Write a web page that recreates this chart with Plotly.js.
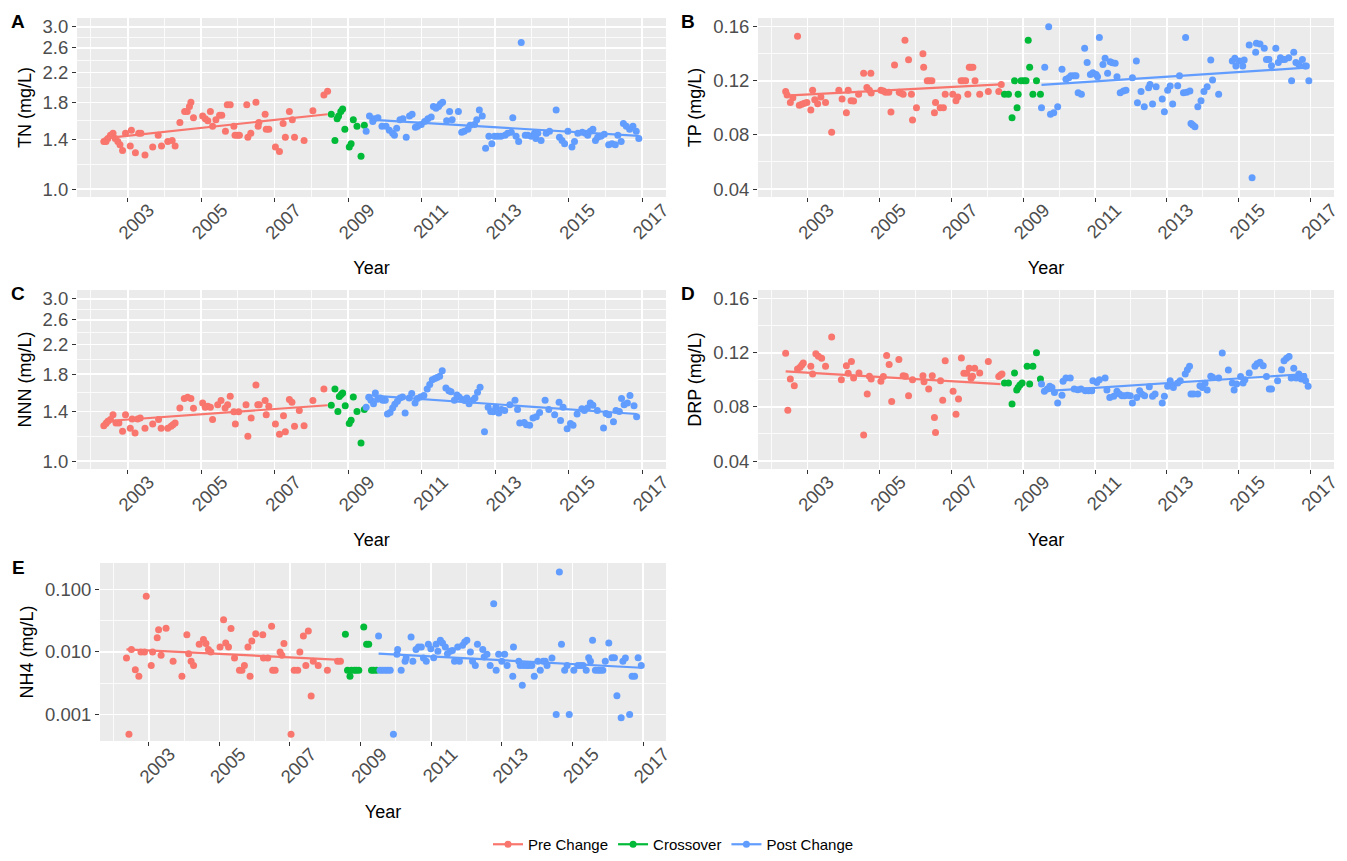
<!DOCTYPE html>
<html><head><meta charset="utf-8">
<script src="https://cdn.plot.ly/plotly-3.0.1.min.js"></script>
<style>body{margin:0;background:#fff}#chart{width:1347px;height:861px}</style>
</head><body><div id="chart"></div>
<script>
// ---------- tick labels ----------
const yearTicks = [2003,2005,2007,2009,2011,2013,2015,2017];
const yearLabels = ['2003','2005','2007','2009','2011','2013','2015','2017'];
const yearMinor = [2002,2004,2006,2008,2010,2012,2014,2016];
const nTicks = [1.0,1.4,1.8,2.2,2.6,3.0];
const nLabels = ['1.0','1.4','1.8','2.2','2.6','3.0'];
const nMinor = [1.183,1.587,1.99,2.392,2.793];
const pTicks = [0.04,0.08,0.12,0.16];
const pLabels = ['0.04','0.08','0.12','0.16'];
const pMinor = [0.06,0.10,0.14];
const nh4Ticks = [0.001,0.01,0.1];
const nh4Labels = ['0.001','0.010','0.100'];
const nh4Minor = [0.00316,0.0316];
const groupNames = ['Pre Change','Crossover','Post Change'];

// ---------- A: TN ----------
const tnPreX = [2002.35,2002.41,2002.46,2002.53,2002.60,2002.66,2002.73,2002.79,2002.86,2002.94,
2003.07,2003.10,2003.21,2003.30,2003.36,2003.47,2003.68,2003.83,2003.92,2004.09,
2004.21,2004.29,2004.42,2004.55,2004.62,2004.68,2004.72,2004.79,2005.04,2005.11,
2005.18,2005.25,2005.31,2005.40,2005.50,2005.56,2005.66,2005.71,2005.79,2005.89,
2005.92,2005.99,2006.04,2006.24,2006.27,2006.35,2006.49,2006.55,2006.57,2006.74,
2006.77,2006.84,2007.02,2007.13,2007.23,2007.29,2007.40,2007.48,2007.54,2007.80,
2008.04,2008.34,2008.44];
const tnPreY = [1.38,1.38,1.41,1.44,1.46,1.41,1.38,1.35,1.30,1.46,
1.34,1.49,1.28,1.46,1.46,1.26,1.33,1.44,1.34,1.38,
1.39,1.34,1.57,1.69,1.69,1.75,1.80,1.62,1.64,1.61,
1.59,1.69,1.53,1.60,1.65,1.65,1.48,1.77,1.77,1.53,
1.44,1.44,1.44,1.77,1.42,1.46,1.80,1.53,1.57,1.66,
1.50,1.50,1.33,1.29,1.56,1.42,1.69,1.60,1.42,1.39,
1.70,1.89,1.94];
const tnCrossX = [2008.54,2008.64,2008.70,2008.74,2008.80,2008.85,2008.91,2009.03,2009.08,2009.14,2009.24,2009.35,2009.44];
const tnCrossY = [1.66,1.39,1.61,1.64,1.69,1.72,1.50,1.33,1.36,1.60,1.53,1.25,1.54];
const tnPostX = [2009.49,2009.58,2009.67,2009.71,2009.81,2009.92,2010.03,2010.12,2010.21,2010.26,
2010.32,2010.41,2010.49,2010.58,2010.67,2010.74,2010.83,2010.89,2010.99,2011.08,
2011.17,2011.26,2011.32,2011.39,2011.46,2011.51,2011.57,2011.68,2011.76,2011.83,
2012.00,2012.09,2012.16,2012.26,2012.32,2012.44,2012.50,2012.57,2012.65,2012.74,
2012.83,2012.91,2012.98,2013.07,2013.16,2013.27,2013.34,2013.44,2013.48,2013.57,
2013.64,2013.71,2013.82,2013.89,2013.98,2014.07,2014.11,2014.16,2014.25,2014.39,
2014.48,2014.66,2014.75,2014.82,2014.89,2014.98,2015.09,2015.16,2015.25,2015.37,
2015.46,2015.52,2015.59,2015.66,2015.73,2015.79,2015.88,2015.97,2016.09,2016.18,
2016.27,2016.34,2016.43,2016.49,2016.57,2016.66,2016.75,2016.84,2016.91];
const tnPostY = [1.48,1.64,1.58,1.61,1.62,1.53,1.53,1.49,1.46,1.44,
1.51,1.60,1.61,1.42,1.64,1.66,1.52,1.53,1.55,1.58,
1.61,1.63,1.75,1.73,1.75,1.78,1.80,1.59,1.69,1.60,
1.69,1.47,1.48,1.50,1.54,1.55,1.60,1.71,1.64,1.32,
1.43,1.36,1.43,1.43,1.43,1.44,1.46,1.47,1.62,1.43,
1.38,2.70,1.44,1.44,1.43,1.46,1.41,1.46,1.39,1.46,
1.48,1.71,1.42,1.39,1.36,1.48,1.33,1.38,1.46,1.47,
1.46,1.44,1.48,1.50,1.39,1.42,1.43,1.45,1.35,1.36,
1.35,1.44,1.38,1.56,1.53,1.50,1.53,1.48,1.41];
const tnPreTrendX = [2002.35,2008.44];
const tnPreTrendY = [1.41,1.66];
const tnPostTrendX = [2009.58,2016.91];
const tnPostTrendY = [1.60,1.435];

// ---------- B: TP ----------
const tpPreX = [2002.39,2002.43,2002.52,2002.59,2002.72,2002.77,2002.84,2002.91,2002.98,2003.09,
2003.14,2003.20,2003.28,2003.37,2003.50,2003.67,2003.87,2003.96,2004.08,2004.13,
2004.21,2004.28,2004.42,2004.56,2004.65,2004.72,2004.76,2004.77,2005.04,2005.11,
2005.17,2005.26,2005.32,2005.42,2005.55,2005.59,2005.66,2005.71,2005.81,2005.89,
2005.92,2006.03,2006.21,2006.23,2006.33,2006.39,2006.46,2006.53,2006.56,2006.69,
2006.78,2006.83,2007.04,2007.13,2007.18,2007.27,2007.33,2007.40,2007.46,2007.50,
2007.54,2007.60,2007.66,2007.79,2008.03,2008.32,2008.39];
const tpPreY = [0.112,0.1095,0.104,0.1075,0.153,0.102,0.1026,0.1033,0.104,0.0984,
0.113,0.106,0.103,0.108,0.104,0.082,0.113,0.1065,0.0964,0.113,
0.1053,0.105,0.110,0.1255,0.115,0.113,0.1255,0.111,0.113,0.1124,
0.1115,0.1115,0.097,0.1317,0.1115,0.111,0.110,0.150,0.1355,0.110,
0.091,0.100,0.140,0.130,0.120,0.120,0.120,0.0964,0.104,0.100,
0.100,0.110,0.110,0.1053,0.108,0.120,0.120,0.120,0.110,0.130,
0.130,0.130,0.120,0.110,0.112,0.112,0.1173];
const tpCrossX = [2008.48,2008.59,2008.69,2008.76,2008.83,2008.86,2008.94,2009.02,2009.08,2009.14,2009.18,2009.27,2009.37,2009.48];
const tpCrossY = [0.110,0.110,0.0927,0.120,0.100,0.110,0.120,0.120,0.120,0.150,0.130,0.110,0.120,0.110];
const tpPostX = [2009.51,2009.60,2009.71,2009.76,2009.85,2009.96,2010.08,2010.19,2010.27,2010.33,
2010.41,2010.47,2010.53,2010.62,2010.71,2010.78,2010.87,2010.94,2011.03,2011.07,
2011.12,2011.22,2011.28,2011.35,2011.42,2011.48,2011.56,2011.61,2011.70,2011.79,
2011.86,2012.04,2012.15,2012.18,2012.28,2012.37,2012.49,2012.53,2012.60,2012.70,
2012.87,2012.93,2013.02,2013.09,2013.16,2013.30,2013.35,2013.46,2013.52,2013.55,
2013.64,2013.67,2013.72,2013.78,2013.86,2013.95,2014.03,2014.12,2014.22,2014.27,
2014.44,2014.82,2014.89,2014.92,2015.01,2015.11,2015.15,2015.29,2015.37,2015.47,
2015.49,2015.59,2015.71,2015.77,2015.84,2015.91,2016.03,2016.10,2016.16,2016.22,
2016.28,2016.39,2016.47,2016.53,2016.59,2016.67,2016.77,2016.84,2016.88,2016.95];
const tpPostY = [0.100,0.130,0.160,0.0952,0.0964,0.1008,0.1285,0.1212,0.1223,0.1238,
0.1238,0.1238,0.1112,0.110,0.144,0.1336,0.1247,0.126,0.1247,0.123,
0.152,0.1321,0.1366,0.1255,0.134,0.1334,0.1329,0.123,0.1112,0.1124,
0.113,0.1223,0.1346,0.1038,0.112,0.1008,0.1149,0.1173,0.1028,0.1156,
0.1065,0.0971,0.113,0.1161,0.1028,0.1164,0.1238,0.1112,0.152,0.1115,
0.1124,0.0885,0.0873,0.0860,0.1008,0.1053,0.112,0.1156,0.1354,0.1205,
0.110,0.1346,0.1366,0.1309,0.1346,0.1309,0.1354,0.1464,0.0483,0.141,
0.1477,0.1472,0.144,0.1358,0.1358,0.1312,0.144,0.1336,0.1371,0.1358,
0.1358,0.1371,0.120,0.141,0.1336,0.1321,0.1358,0.1309,0.1309,0.120];
const tpPreTrendX = [2002.39,2008.39];
const tpPreTrendY = [0.109,0.1173];
const tpPostTrendX = [2009.51,2016.88];
const tpPostTrendY = [0.1169,0.1297];

// ---------- C: NNN ----------
const nnnPreX = [2002.35,2002.41,2002.46,2002.53,2002.60,2002.68,2002.76,2002.86,2002.94,2003.07,
2003.12,2003.20,2003.27,2003.34,2003.47,2003.68,2003.84,2003.91,2004.09,2004.18,
2004.23,2004.29,2004.42,2004.54,2004.63,2004.72,2004.79,2005.04,2005.11,2005.18,
2005.25,2005.31,2005.45,2005.54,2005.65,2005.72,2005.79,2005.89,2005.93,2006.02,
2006.22,2006.27,2006.36,2006.49,2006.54,2006.58,2006.74,2006.77,2006.84,2007.02,
2007.13,2007.24,2007.29,2007.40,2007.47,2007.54,2007.67,2007.80,2008.04,2008.34];
const nnnPreY = [1.27,1.29,1.31,1.325,1.37,1.295,1.295,1.225,1.37,1.25,
1.33,1.21,1.33,1.34,1.25,1.285,1.325,1.25,1.25,1.267,
1.28,1.295,1.434,1.527,1.54,1.527,1.43,1.483,1.44,1.45,
1.44,1.325,1.466,1.507,1.434,1.466,1.551,1.396,1.285,1.396,
1.466,1.184,1.34,1.675,1.466,1.466,1.507,1.37,1.45,1.285,
1.20,1.36,1.22,1.517,1.49,1.267,1.41,1.27,1.507,1.63];
const nnnCrossX = [2008.54,2008.64,2008.72,2008.76,2008.81,2008.85,2008.92,2009.03,2009.08,2009.14,2009.24,2009.35,2009.44];
const nnnCrossY = [1.46,1.63,1.40,1.55,1.57,1.586,1.456,1.29,1.32,1.545,1.40,1.13,1.418];
const nnnPostX = [2009.49,2009.56,2009.62,2009.69,2009.74,2009.80,2009.87,2009.94,2010.01,2010.07,
2010.14,2010.21,2010.27,2010.34,2010.41,2010.48,2010.55,2010.66,2010.73,2010.82,
2010.88,2010.97,2011.06,2011.15,2011.22,2011.29,2011.36,2011.42,2011.49,2011.56,
2011.66,2011.74,2011.80,2011.89,2011.96,2012.02,2012.10,2012.17,2012.23,2012.29,
2012.39,2012.45,2012.52,2012.59,2012.71,2012.81,2012.88,2012.95,2013.02,2013.10,
2013.17,2013.26,2013.40,2013.54,2013.61,2013.67,2013.79,2013.85,2013.94,2014.03,
2014.12,2014.21,2014.36,2014.46,2014.62,2014.74,2014.78,2014.85,2014.96,2015.05,
2015.12,2015.23,2015.36,2015.43,2015.51,2015.59,2015.66,2015.78,2015.95,2016.02,
2016.09,2016.22,2016.29,2016.38,2016.44,2016.51,2016.60,2016.67,2016.78,2016.85];
const nnnPostY = [1.44,1.54,1.51,1.475,1.586,1.52,1.534,1.51,1.51,1.376,
1.39,1.434,1.47,1.50,1.534,1.545,1.386,1.534,1.58,1.483,
1.527,1.545,1.56,1.63,1.68,1.736,1.75,1.76,1.775,1.845,
1.64,1.61,1.60,1.51,1.565,1.545,1.517,1.507,1.534,1.475,
1.51,1.534,1.595,1.65,1.22,1.44,1.40,1.396,1.44,1.386,
1.418,1.41,1.466,1.51,1.418,1.295,1.30,1.28,1.275,1.34,
1.35,1.39,1.51,1.418,1.37,1.49,1.316,1.44,1.245,1.29,
1.275,1.376,1.425,1.41,1.434,1.483,1.46,1.41,1.252,1.38,
1.37,1.305,1.41,1.40,1.527,1.466,1.483,1.56,1.456,1.35];
const nnnPreTrendX = [2002.35,2008.44];
const nnnPreTrendY = [1.31,1.46];
const nnnPostTrendX = [2009.56,2016.85];
const nnnPostTrendY = [1.56,1.376];

// ---------- D: DRP ----------
const drpPreX = [2002.39,2002.45,2002.52,2002.63,2002.72,2002.79,2002.84,2002.88,2003.09,2003.14,
2003.23,2003.30,2003.39,2003.50,2003.67,2003.94,2004.08,2004.13,2004.22,2004.28,
2004.43,2004.56,2004.66,2004.72,2004.77,2005.04,2005.11,2005.20,2005.27,2005.34,
2005.54,2005.66,2005.72,2005.81,2005.92,2006.21,2006.24,2006.37,2006.47,2006.53,
2006.56,2006.70,2006.76,2006.83,2007.05,2007.13,2007.20,2007.28,2007.35,2007.43,
2007.50,2007.55,2007.59,2007.65,2007.79,2008.03,2008.32,2008.37,2008.41];
const drpPreY = [0.1197,0.0776,0.1006,0.0957,0.108,0.1093,0.111,0.1125,0.110,0.1043,
0.1192,0.1175,0.116,0.110,0.1316,0.100,0.1105,0.1048,0.1135,0.1014,
0.1051,0.0593,0.0895,0.1026,0.1006,0.0989,0.1024,0.1179,0.1113,0.0840,
0.115,0.1031,0.1026,0.0883,0.100,0.1031,0.0986,0.0932,0.1031,0.0722,
0.061,0.0994,0.0850,0.1142,0.0915,0.0746,0.0858,0.1162,0.1048,0.1048,
0.1085,0.1011,0.1026,0.1085,0.1051,0.1135,0.1024,0.1036,0.1043];
const drpCrossX = [2008.48,2008.59,2008.69,2008.76,2008.82,2008.86,2008.91,2008.97,2009.11,2009.18,2009.27,2009.37,2009.48];
const drpCrossY = [0.0977,0.0977,0.0821,0.1051,0.0925,0.0944,0.0962,0.0977,0.110,0.0969,0.110,0.120,0.1006];
const drpPostX = [2009.51,2009.59,2009.67,2009.74,2009.80,2009.87,2009.96,2010.08,2010.11,2010.19,
2010.31,2010.42,2010.52,2010.61,2010.73,2010.82,2010.91,2010.94,2011.05,2011.12,
2011.28,2011.33,2011.41,2011.52,2011.61,2011.68,2011.75,2011.82,2011.90,2011.98,
2012.04,2012.16,2012.24,2012.30,2012.38,2012.51,2012.60,2012.67,2012.87,2012.93,
2013.02,2013.09,2013.14,2013.18,2013.30,2013.37,2013.51,2013.57,2013.63,2013.67,
2013.74,2013.86,2013.92,2013.99,2014.06,2014.12,2014.22,2014.27,2014.44,2014.54,
2014.71,2014.82,2014.87,2014.94,2015.05,2015.12,2015.17,2015.29,2015.45,2015.51,
2015.59,2015.68,2015.77,2015.85,2015.91,2016.08,2016.19,2016.26,2016.33,2016.40,
2016.46,2016.53,2016.60,2016.67,2016.74,2016.81,2016.86,2016.93];
const drpPostY = [0.0969,0.0915,0.0932,0.0952,0.0944,0.0907,0.0828,0.0887,0.0989,0.1014,
0.1014,0.0932,0.0927,0.0932,0.092,0.092,0.092,0.0994,0.0981,0.1001,
0.1014,0.0925,0.087,0.0878,0.0915,0.0895,0.0883,0.0883,0.0887,0.0883,
0.0828,0.087,0.092,0.0895,0.0883,0.0949,0.0878,0.0895,0.0828,0.0878,
0.0952,0.0994,0.0962,0.0944,0.0977,0.0994,0.1043,0.1075,0.110,0.0895,
0.0895,0.0895,0.0957,0.0944,0.0974,0.0925,0.1026,0.1019,0.1014,0.1199,
0.1073,0.0977,0.0925,0.0969,0.1024,0.0977,0.1001,0.1051,0.110,0.1118,
0.113,0.1105,0.1024,0.0932,0.0932,0.0994,0.1075,0.1142,0.116,0.1172,
0.1014,0.1085,0.1014,0.1043,0.1006,0.1024,0.0994,0.0952];
const drpPreTrendX = [2002.39,2008.37];
const drpPreTrendY = [0.1063,0.0969];
const drpPostTrendX = [2009.51,2016.88];
const drpPostTrendY = [0.0915,0.1043];

// ---------- E: NH4 ----------
const nh4PreX = [2002.37,2002.44,2002.51,2002.62,2002.72,2002.78,2002.88,2002.93,2003.07,2003.11,
2003.24,2003.28,2003.35,2003.49,2003.69,2003.94,2004.08,2004.13,2004.20,2004.27,
2004.43,2004.55,2004.62,2004.69,2004.76,2005.02,2005.12,2005.18,2005.26,2005.33,
2005.43,2005.57,2005.64,2005.71,2005.81,2005.87,2005.92,2006.03,2006.23,2006.25,
2006.37,2006.48,2006.51,2006.58,2006.72,2006.77,2006.83,2007.03,2007.12,2007.22,
2007.28,2007.38,2007.45,2007.52,2007.60,2007.66,2007.80,2008.06,2008.35,2008.43];
const nh4PreY = [0.0080,0.000485,0.0110,0.0052,0.0041,0.010,0.010,0.0773,0.0061,0.010,
0.0169,0.0227,0.0089,0.024,0.0071,0.0041,0.0189,0.0094,0.0071,0.0061,
0.0133,0.0158,0.0136,0.011,0.010,0.012,0.0328,0.0139,0.012,0.0236,
0.008,0.0051,0.0051,0.0061,0.012,0.0041,0.0149,0.0196,0.0189,0.008,
0.008,0.0257,0.0051,0.0051,0.010,0.00885,0.0136,0.000485,0.0051,0.0051,
0.010,0.018,0.0061,0.0217,0.00199,0.0071,0.0061,0.0051,0.0071,0.0071];
const nh4CrossX = [2008.57,2008.63,2008.70,2008.74,2008.82,2008.88,2008.95,2009.09,2009.17,2009.23,2009.31,2009.37,2009.45];
const nh4CrossY = [0.0191,0.0051,0.0041,0.0051,0.0051,0.0051,0.0051,0.0251,0.0133,0.0133,0.0051,0.0051,0.0051];
const nh4PostX = [2009.51,2009.55,2009.62,2009.70,2009.77,2009.84,2009.93,2010.03,2010.05,2010.15,
2010.26,2010.29,2010.43,2010.48,2010.57,2010.64,2010.72,2010.78,2010.86,2010.92,
2010.99,2011.07,2011.14,2011.19,2011.26,2011.32,2011.40,2011.46,2011.54,2011.60,
2011.66,2011.75,2011.80,2011.89,2011.95,2012.01,2012.11,2012.17,2012.25,2012.31,
2012.46,2012.50,2012.58,2012.67,2012.77,2012.84,2012.91,2013.00,2013.08,2013.15,
2013.31,2013.33,2013.48,2013.52,2013.58,2013.62,2013.71,2013.76,2013.85,2013.92,
2014.02,2014.09,2014.17,2014.23,2014.28,2014.42,2014.54,2014.63,2014.69,2014.78,
2014.85,2014.91,2015.04,2015.15,2015.23,2015.30,2015.39,2015.46,2015.51,2015.57,
2015.65,2015.73,2015.79,2015.86,2015.93,2016.03,2016.12,2016.19,2016.26,2016.38,
2016.43,2016.50,2016.62,2016.69,2016.76,2016.86,2016.95];
const nh4PostY = [0.018,0.0051,0.0051,0.0051,0.0051,0.0051,0.000485,0.0092,0.011,0.0051,
0.0071,0.008,0.0174,0.0071,0.011,0.012,0.012,0.008,0.0071,0.0133,
0.0113,0.0081,0.0133,0.0103,0.0154,0.0139,0.012,0.0094,0.0103,0.0106,
0.0071,0.012,0.0071,0.0128,0.0144,0.0154,0.010,0.0071,0.0061,0.0133,
0.011,0.0083,0.0092,0.0061,0.059,0.0051,0.0092,0.0071,0.0092,0.0061,
0.0041,0.012,0.0071,0.0061,0.00294,0.0061,0.0061,0.0061,0.0061,0.0041,
0.0071,0.0051,0.0071,0.0071,0.0061,0.008,0.001,0.189,0.0133,0.0051,
0.0061,0.001,0.0051,0.0061,0.0061,0.0061,0.0051,0.0081,0.0071,0.0154,
0.0051,0.0051,0.0051,0.0051,0.0071,0.0139,0.0081,0.0081,0.002,0.00089,
0.0071,0.008,0.001,0.0041,0.0041,0.0081,0.0061];
const nh4PreTrendX = [2002.37,2008.45];
const nh4PreTrendY = [0.011,0.0075];
const nh4PostTrendX = [2009.51,2016.95];
const nh4PostTrendY = [0.0094,0.0056];

// ---------- styling ----------
const FONT = 'Liberation Sans, Arial, sans-serif';
const COL = {pre:'#F8766D', cross:'#00BA38', post:'#619CFF'};
const W = 1347, H = 861;

function pts(x, y, color, ax) {
  return {type:'scatter', mode:'markers', x:x, y:y, xaxis:'x'+ax, yaxis:'y'+ax,
    marker:{color:color, size:7, line:{width:0}}, showlegend:false, hoverinfo:'x+y'};
}
function trend(x, y, color, ax) {
  return {type:'scatter', mode:'lines', x:x, y:y, xaxis:'x'+ax, yaxis:'y'+ax,
    line:{color:color, width:2.2}, showlegend:false, hoverinfo:'skip'};
}
const panels = [
  ['', tnPreX,tnPreY,tnCrossX,tnCrossY,tnPostX,tnPostY,tnPreTrendX,tnPreTrendY,tnPostTrendX,tnPostTrendY],
  ['2', tpPreX,tpPreY,tpCrossX,tpCrossY,tpPostX,tpPostY,tpPreTrendX,tpPreTrendY,tpPostTrendX,tpPostTrendY],
  ['3', nnnPreX,nnnPreY,nnnCrossX,nnnCrossY,nnnPostX,nnnPostY,nnnPreTrendX,nnnPreTrendY,nnnPostTrendX,nnnPostTrendY],
  ['4', drpPreX,drpPreY,drpCrossX,drpCrossY,drpPostX,drpPostY,drpPreTrendX,drpPreTrendY,drpPostTrendX,drpPostTrendY],
  ['5', nh4PreX,nh4PreY,nh4CrossX,nh4CrossY,nh4PostX,nh4PostY,nh4PreTrendX,nh4PreTrendY,nh4PostTrendX,nh4PostTrendY]
];
const traces = [];
panels.forEach(p => {
  const a = p[0];
  traces.push(pts(p[1],p[2],COL.pre,a));
  traces.push(pts(p[3],p[4],COL.cross,a));
  traces.push(pts(p[5],p[6],COL.post,a));
  traces.push(trend(p[7],p[8],COL.pre,a));
  traces.push(trend(p[9],p[10],COL.post,a));
});
// legend entries (no data drawn)
[[groupNames[0],COL.pre],[groupNames[1],COL.cross],[groupNames[2],COL.post]].forEach(g => {
  traces.push({type:'scatter', mode:'lines+markers', x:[null], y:[null], name:g[0],
    line:{color:g[1], width:2.2}, marker:{color:g[1], size:7}, xaxis:'x', yaxis:'y', hoverinfo:'skip'});
});

function px2dx(l, r) { return [l/W, r/W]; }
function py2dy(t, b) { return [1 - b/H, 1 - t/H]; }

function xAxis(dom, anchor) {
  return {domain:dom, anchor:anchor, range:[2001.62,2017.65], tickmode:'array', tickvals:yearTicks, ticktext:yearLabels,
    tickangle:-45, ticks:'outside', ticklen:4, tickwidth:1, tickcolor:'#333333',
    tickfont:{family:FONT, size:18.5, color:'#4D4D4D'}, ticklabelshift:21, ticklabelstandoff:-10,
    showgrid:true, gridcolor:'#FFFFFF', gridwidth:1.6,
    minor:{tickmode:'array', tickvals:yearMinor, showgrid:true, gridcolor:'#FFFFFF', gridwidth:0.8, ticks:''},
    zeroline:false, showline:false, fixedrange:true,
    title:{text:'Year', font:{family:FONT, size:18, color:'#000000'}, standoff:18}};
}
function yAxis(dom, anchor, type, range, tv, tt, mv, title) {
  return {domain:dom, anchor:anchor, type:type, range:range, tickmode:'array', tickvals:tv, ticktext:tt,
    ticks:'outside', ticklen:4, tickwidth:1, tickcolor:'#333333',
    tickfont:{family:FONT, size:18.5, color:'#4D4D4D'},
    showgrid:true, gridcolor:'#FFFFFF', gridwidth:1.6,
    minor:{tickmode:'array', tickvals:mv, showgrid:true, gridcolor:'#FFFFFF', gridwidth:0.8, ticks:''},
    zeroline:false, showline:false, fixedrange:true,
    title:{text:title, font:{family:FONT, size:18, color:'#000000'}, standoff:6}};
}
const logN = [-0.023, 0.503];
const linP = [0.0341, 0.1664];
const logE = [-3.421, -0.580];

function tag(t, x, y) {
  return {text:'<b>'+t+'</b>', xref:'paper', yref:'paper', x:x/W, y:1-y/H, xanchor:'center', yanchor:'middle',
    showarrow:false, font:{family:FONT, size:19, color:'#000000'}};
}

const layout = {
  width:W, height:H, margin:{l:0, r:0, t:0, b:0},
  paper_bgcolor:'#FFFFFF', plot_bgcolor:'#EBEBEB',
  font:{family:FONT},
  showlegend:true,
  legend:{orientation:'h', x:0.5, xanchor:'center', y:0, yanchor:'bottom',
    font:{family:FONT, size:15, color:'#000000'}, bgcolor:'rgba(0,0,0,0)', itemwidth:30},
  xaxis:  xAxis(px2dx(77,666), 'y'),
  yaxis:  yAxis(py2dy(18,197), 'x', 'log', logN, nTicks, nLabels, nMinor, 'TN (mg/L)'),
  xaxis2: xAxis(px2dx(758,1334), 'y2'),
  yaxis2: yAxis(py2dy(18,197), 'x2', 'linear', linP, pTicks, pLabels, pMinor, 'TP (mg/L)'),
  xaxis3: xAxis(px2dx(77,666), 'y3'),
  yaxis3: yAxis(py2dy(290,469), 'x3', 'log', logN, nTicks, nLabels, nMinor, 'NNN (mg/L)'),
  xaxis4: xAxis(px2dx(758,1334), 'y4'),
  yaxis4: yAxis(py2dy(290,469), 'x4', 'linear', linP, pTicks, pLabels, pMinor, 'DRP (mg/L)'),
  xaxis5: xAxis(px2dx(100,666), 'y5'),
  yaxis5: yAxis(py2dy(563,741), 'x5', 'log', logE, nh4Ticks, nh4Labels, nh4Minor, 'NH4 (mg/L)'),
  annotations:[tag('A',18,21), tag('B',688,21), tag('C',18,293), tag('D',688,293), tag('E',18,567)]
};
Plotly.newPlot('chart', traces, layout, {displayModeBar:false, staticPlot:true});
</script></body></html>
